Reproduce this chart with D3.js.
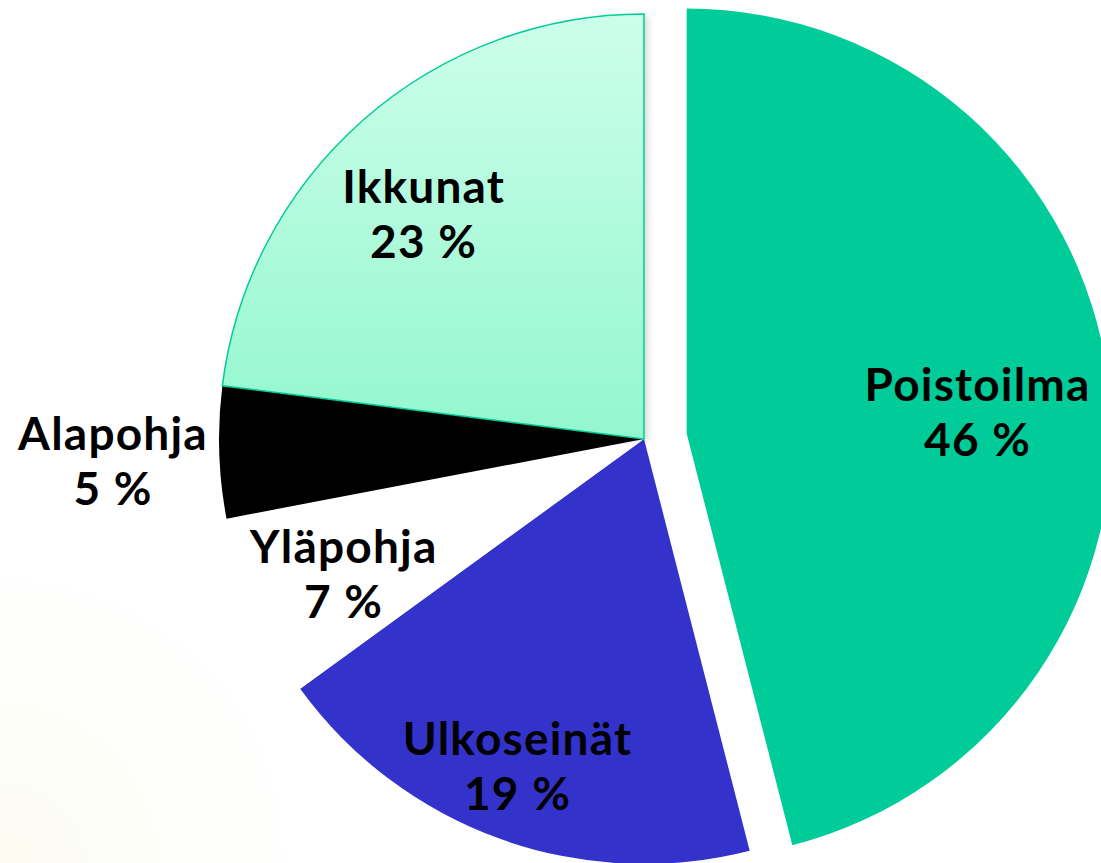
<!DOCTYPE html>
<html>
<head>
<meta charset="utf-8">
<script src="https://cdn.jsdelivr.net/npm/d3@7"></script>
<style>
  body { margin: 0; background: #ffffff; }
  .slice-label { font-family: Lato, "Open Sans", sans-serif; font-weight: bold; font-size: 46px; letter-spacing: 1.2px; fill: #000000; }
</style>
</head>
<body>
<div id="canvas"></div>
<script>
"use strict";

/* Data: heat loss shares, in pie order clockwise from 12 o'clock */
let categories = ["Poistoilma", "Ulkoseinät", "Yläpohja", "Alapohja", "Ikkunat"];
let shares = [46, 19, 7, 5, 23];
let shareLabels = ["46 %", "19 %", "7 %", "5 %", "23 %"];

/* Drawing config */
let svgWidth = 1101;
let svgHeight = 863;
let cx = 644;
let cy = 439;
let radius = 425;
let explodeDist = 43;
let lineGap = 55;

// fills per slice (Ikkunat uses a gradient)
let sliceFills = ["#00cc99", "#3333cc", "#ffffff", "#000000", "url(#ikkunaGrad)"];
// where the label sits, as fraction of radius along the mid angle, plus a nudge
let labelRadius = [0.69, 0.83, 0.77, 1.25, 0.72];
let labelNudge = [[0, 10], [-7, -10], [0, 0], [0, 0], [-18, 0]];

let svg = d3.select("#canvas")
  .append("svg")
  .attr("width", svgWidth)
  .attr("height", svgHeight);

let defs = svg.append("defs");

// gradient runs over the slice height, in the pie group's own coordinates
let grad = defs.append("linearGradient")
  .attr("id", "ikkunaGrad")
  .attr("gradientUnits", "userSpaceOnUse")
  .attr("x1", 0).attr("y1", -radius)
  .attr("x2", 0).attr("y2", 0);
grad.append("stop").attr("offset", "0%").attr("stop-color", "#cdfeec");
grad.append("stop").attr("offset", "100%").attr("stop-color", "#93f7cd");

// faint warm glow in the bottom-left corner
let bg = defs.append("radialGradient")
  .attr("id", "bgGlow")
  .attr("gradientUnits", "userSpaceOnUse")
  .attr("cx", 0).attr("cy", svgHeight).attr("r", 300);
bg.append("stop").attr("offset", "0%").attr("stop-color", "#fcfcf3");
bg.append("stop").attr("offset", "100%").attr("stop-color", "#ffffff");

let shadow = defs.append("filter")
  .attr("id", "softShadow")
  .attr("x", "-10%").attr("y", "-10%")
  .attr("width", "130%").attr("height", "130%");
shadow.append("feDropShadow")
  .attr("dx", 3).attr("dy", 2)
  .attr("stdDeviation", 3)
  .attr("flood-color", "#000000")
  .attr("flood-opacity", 0.15);

svg.append("rect")
  .attr("width", svgWidth)
  .attr("height", svgHeight)
  .attr("fill", "url(#bgGlow)");

let pie = d3.pie().sort(null).value(function (d) { return d; });
let arcs = pie(shares);

let arc = d3.arc().innerRadius(0).outerRadius(radius);

function midAngle(d) { return (d.startAngle + d.endAngle) / 2; }

// Poistoilma is pulled out of the pie
function offsetOf(d, i) {
  if (i !== 0) return [0, 0];
  let a = midAngle(d);
  return [Math.sin(a) * explodeDist, -Math.cos(a) * explodeDist];
}

let g = svg.append("g").attr("transform", "translate(" + cx + "," + cy + ")");

g.selectAll("path.slice")
  .data(arcs)
  .enter()
  .append("path")
  .attr("class", "slice")
  .attr("d", arc)
  .attr("transform", function (d, i) {
    let o = offsetOf(d, i);
    return "translate(" + o[0] + "," + o[1] + ")";
  })
  .attr("fill", function (d, i) { return sliceFills[i]; })
  .attr("stroke", function (d, i) { return i === 4 ? "#00cc99" : "none"; })
  .attr("stroke-width", 1.5)
  .attr("filter", function (d, i) { return i === 4 ? "url(#softShadow)" : null; });

/* Labels: name on first line, share on second */
let labels = g.selectAll("text.slice-label")
  .data(arcs)
  .enter()
  .append("text")
  .attr("class", "slice-label")
  .attr("text-anchor", "middle")
  .attr("transform", function (d, i) {
    let o = offsetOf(d, i);
    let a = midAngle(d);
    let r = radius * labelRadius[i];
    let x = o[0] + Math.sin(a) * r + labelNudge[i][0];
    let y = o[1] - Math.cos(a) * r + labelNudge[i][1];
    return "translate(" + x + "," + y + ")";
  });

labels.append("tspan")
  .attr("x", 0)
  .attr("y", -6)
  .text(function (d, i) { return categories[i]; });

labels.append("tspan")
  .attr("x", 0)
  .attr("y", -6 + lineGap)
  .text(function (d, i) { return shareLabels[i]; });
</script>
</body>
</html>
